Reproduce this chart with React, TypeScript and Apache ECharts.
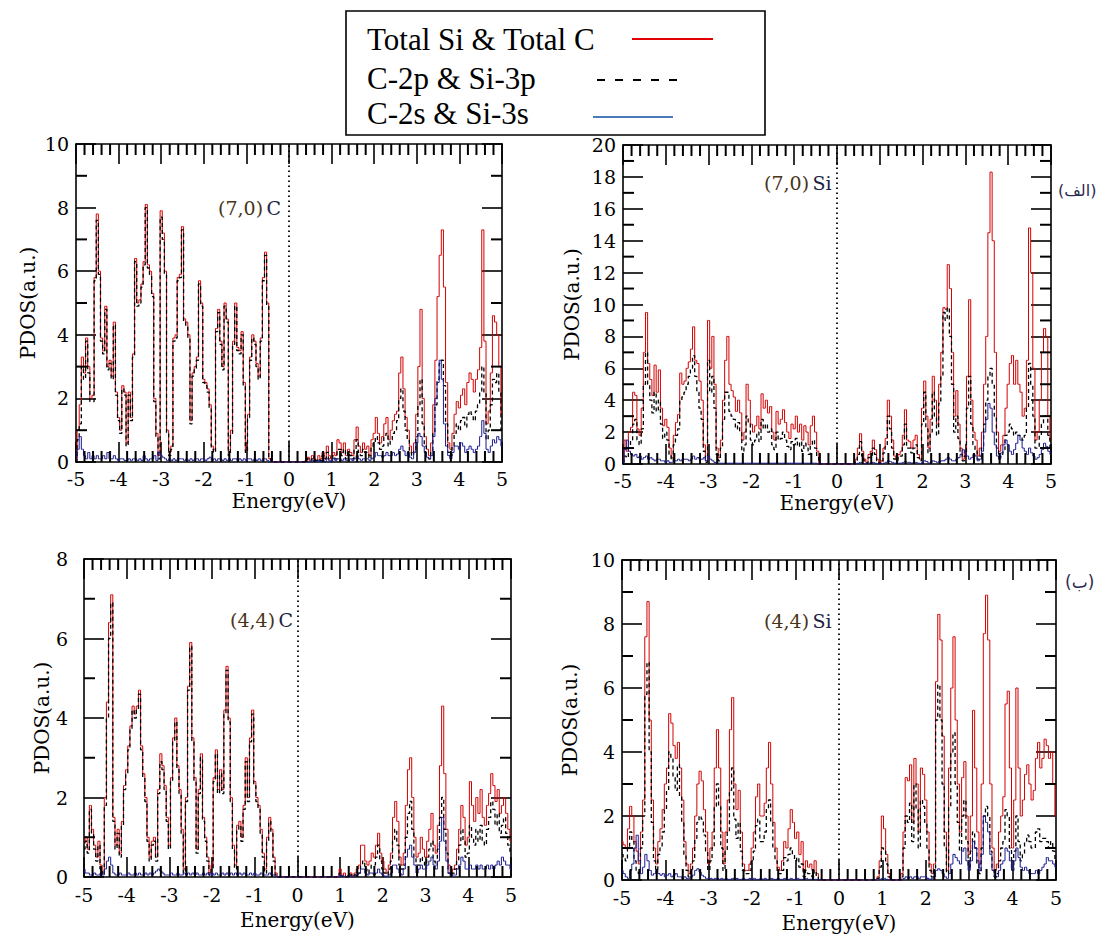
import React, { useEffect, useRef } from "react";
import * as echarts from "echarts";

// Energy sampling grid (eV), -5 … 5 in 0.05 eV steps
const ENERGY: number[] = Array.from({ length: 201 }, (_, i) => Math.round((-5 + i * 0.05) * 100) / 100);

// ---------- (7,0) C ----------
const C70_TOTAL = [
  0.1, 1.0, 1.8, 3.3, 2.8, 3.9, 3.0, 2.0, 2.1, 5.8,
  7.8, 6.0, 3.9, 3.5, 4.9, 3.0, 3.2, 2.7, 4.4, 2.2,
  1.4, 1.0, 2.4, 2.2, 0.6, 2.2, 1.4, 3.4, 6.4, 5.0,
  5.1, 5.6, 6.3, 8.1, 6.2, 6.0, 5.3, 2.0, 0.9, 0.2,
  7.9, 7.2, 6.0, 1.0, 0.3, 0.5, 3.9, 4.0, 5.8, 5.9,
  7.4, 4.5, 4.4, 4.0, 1.3, 2.8, 3.0, 3.3, 5.7, 5.0,
  2.6, 2.5, 2.3, 1.8, 0.5, 0.4, 4.2, 4.8, 3.8, 3.0,
  5.0, 4.5, 0.3, 1.0, 3.8, 5.0, 3.6, 3.5, 4.1, 2.5,
  0.4, 1.5, 3.3, 4.0, 3.8, 3.1, 2.7, 3.9, 5.8, 6.6,
  5.0, 0.1, 0, 0, 0, 0, 0, 0, 0, 0,
  0, 0, 0, 0, 0, 0, 0, 0, 0.05, 0.15,
  0.05, 0.2, 0.1, 0.05, 0.2, 0.1, 0.3, 0.1, 0.5, 0.2,
  0.1, 0.3, 0.2, 0.7, 0.6, 0.3, 0.6, 0.2, 0.4, 0.3,
  0.2, 0.7, 1.1, 0.5, 0.3, 0.6, 0.4, 0.5, 0.2, 0.7,
  0.9, 1.4, 0.9, 0.6, 0.8, 1.2, 1.4, 0.7, 1.0, 1.3,
  1.5, 1.6, 2.8, 3.3, 2.3, 1.4, 1.0, 0.5, 0.3, 0.6,
  1.5, 3.0, 4.8, 2.0, 0.8, 0.4, 0.2, 0.6, 1.8, 3.2,
  5.2, 6.5, 7.3, 5.5, 2.5, 0.6, 0.4, 0.9, 1.5, 1.9,
  1.7, 2.1, 2.3, 1.8, 2.5, 2.8, 2.6, 2.2, 2.6, 2.9,
  3.6, 7.3, 3.8, 1.2, 1.6, 2.8, 4.6, 4.4, 4.0, 3.0,
  1.5,
];
const C70_P = [
  0.0, 0.7, 1.2, 3.0, 2.6, 3.8, 2.8, 1.9, 1.9, 5.7,
  7.6, 5.9, 3.8, 3.4, 4.8, 2.9, 3.1, 2.6, 4.3, 2.1,
  1.3, 0.9, 2.3, 2.1, 0.5, 2.1, 1.3, 3.3, 6.3, 4.9,
  5.0, 5.5, 6.2, 8.0, 6.1, 5.9, 5.2, 1.9, 0.8, 0.1,
  7.7, 7.0, 5.9, 0.9, 0.2, 0.4, 3.8, 3.9, 5.7, 5.8,
  7.3, 4.4, 4.3, 3.9, 1.2, 2.7, 2.9, 3.2, 5.6, 4.9,
  2.5, 2.4, 2.2, 1.7, 0.4, 0.3, 4.1, 4.7, 3.7, 2.9,
  4.9, 4.4, 0.2, 0.9, 3.7, 4.9, 3.5, 3.4, 4.0, 2.4,
  0.3, 1.4, 3.2, 3.9, 3.7, 3.0, 2.6, 3.8, 5.7, 6.5,
  4.9, 0.1, 0, 0, 0, 0, 0, 0, 0, 0,
  0, 0, 0, 0, 0, 0, 0, 0, 0.05, 0.1,
  0.05, 0.1, 0.05, 0.05, 0.1, 0.05, 0.2, 0.1, 0.3, 0.1,
  0.1, 0.2, 0.1, 0.4, 0.4, 0.2, 0.4, 0.1, 0.3, 0.2,
  0.1, 0.4, 0.7, 0.3, 0.2, 0.4, 0.3, 0.3, 0.1, 0.5,
  0.6, 0.8, 0.6, 0.4, 0.5, 0.8, 0.9, 0.5, 0.7, 0.9,
  1.0, 1.3, 2.0, 2.3, 1.6, 1.0, 0.7, 0.3, 0.2, 0.4,
  0.8, 1.8, 2.6, 1.2, 0.5, 0.2, 0.1, 0.3, 0.9, 1.8,
  2.6, 3.1, 3.2, 2.4, 1.2, 0.3, 0.2, 0.5, 0.9, 1.2,
  1.0, 1.3, 1.4, 1.1, 1.5, 1.6, 1.5, 1.3, 1.6, 1.8,
  2.2, 3.0, 2.2, 0.7, 1.0, 1.8, 2.6, 2.5, 2.8, 2.2,
  1.0,
];
const C70_S = [
  0.1, 0.4, 0.8, 0.4, 0.2, 0.1, 0.3, 0.1, 0.2, 0.1,
  0.2, 0.1, 0.1, 0.2, 0.1, 0.3, 0.1, 0.1, 0.2, 0.1,
  0.05, 0.1, 0.1, 0.05, 0.05, 0.1, 0.05, 0.1, 0.1, 0.05,
  0.1, 0.05, 0.2, 0.1, 0.05, 0.1, 0.1, 0.2, 0.05, 0.3,
  0.2, 0.15, 0.1, 0.05, 0.1, 0.05, 0.1, 0.05, 0.1, 0.1,
  0.1, 0.05, 0.1, 0.05, 0.1, 0.05, 0.1, 0.1, 0.05, 0.1,
  0.1, 0.05, 0.1, 0.15, 0.05, 0.1, 0.05, 0.1, 0.1, 0.05,
  0.1, 0.05, 0.1, 0.05, 0.1, 0.1, 0.05, 0.1, 0.05, 0.1,
  0.05, 0.1, 0.1, 0.05, 0.1, 0.05, 0.1, 0.05, 0.1, 0.1,
  0.05, 0, 0, 0, 0, 0, 0, 0, 0, 0,
  0, 0, 0, 0, 0, 0, 0, 0, 0, 0,
  0, 0.05, 0, 0, 0.05, 0, 0.05, 0, 0.1, 0.05,
  0, 0.1, 0.05, 0.1, 0.1, 0.05, 0.1, 0.05, 0.05, 0.1,
  0.05, 0.1, 0.2, 0.1, 0.05, 0.1, 0.1, 0.1, 0.05, 0.1,
  0.15, 0.3, 0.2, 0.2, 0.15, 0.2, 0.3, 0.2, 0.2, 0.3,
  0.2, 0.25, 0.4, 0.5, 0.35, 0.2, 0.3, 0.15, 0.1, 0.3,
  0.6, 0.9, 0.8, 0.5, 0.3, 0.15, 0.1, 0.2, 0.8, 2.0,
  2.5, 3.2, 2.6, 1.2, 0.5, 0.2, 0.1, 0.3, 0.5, 0.5,
  0.4, 0.6, 0.5, 0.3, 0.4, 0.5, 0.4, 0.3, 0.4, 0.5,
  0.8, 1.3, 0.9, 0.4, 0.3, 0.5, 0.7, 0.6, 0.8, 0.7,
  0.5,
];

// ---------- (7,0) Si ----------
const SI70_TOTAL = [
  0.2, 1.5, 0.8, 2.0, 2.3, 4.5, 4.3, 2.2, 1.8, 3.5,
  7.0, 9.5, 6.3, 5.3, 4.3, 6.2, 4.5, 5.9, 3.5, 2.4,
  2.8, 2.3, 1.0, 0.4, 1.8, 2.6, 3.1, 5.7, 5.0, 5.2,
  6.0, 6.4, 7.2, 8.6, 6.5, 6.3, 5.2, 4.0, 1.2, 0.2,
  9.0, 6.0, 8.0, 5.0, 1.0, 0.4, 1.5, 4.0, 6.5, 8.0,
  5.0, 4.6, 4.2, 3.3, 4.0, 3.2, 1.5, 2.0, 5.0, 4.0,
  2.5, 2.0, 2.4, 3.0, 2.2, 4.4, 3.5, 4.0, 3.2, 3.6,
  2.0, 1.5, 3.3, 2.5, 2.8, 3.4, 2.6, 2.0, 1.6, 2.5,
  2.2, 3.0, 2.0, 2.5, 1.5, 2.4, 2.0, 1.2, 2.4, 3.0,
  2.0, 0.8, 0, 0, 0, 0, 0, 0, 0, 0,
  0, 0, 0, 0, 0, 0, 0, 0, 0, 0.3,
  1.0, 1.9, 0.8, 0.3, 0.1, 0.6, 0.8, 1.5, 0.9, 0.3,
  0.1, 0.2, 1.0, 1.6, 4.0, 3.0, 1.5, 0.5, 0.3, 0.6,
  0.8, 1.8, 3.4, 1.5, 1.4, 1.0, 1.5, 1.8, 0.6, 0.3,
  3.5, 5.2, 3.0, 1.0, 2.8, 5.5, 4.0, 2.5, 5.0, 7.0,
  9.8, 9.7, 12.5, 11.0, 7.0, 3.0, 4.6, 2.5, 1.0, 0.3,
  0.8, 5.5, 10.3, 4.0, 2.0, 1.5, 0.5, 1.0, 2.0, 5.0,
  8.0, 14.5, 18.3, 14.0, 7.0, 2.0, 0.8, 1.2, 1.8, 3.5,
  5.0, 6.3, 6.8, 5.0, 6.5, 5.0, 4.5, 3.0, 3.5, 6.5,
  14.8, 12.0, 6.0, 1.5, 2.0, 4.0, 7.0, 8.5, 8.0, 3.0,
  1.5,
];
const SI70_P = [
  0.1, 0.5, 0.4, 1.0, 1.5, 2.5, 2.8, 1.5, 1.2, 2.2,
  5.0, 7.0, 5.0, 4.0, 3.2, 4.5, 3.3, 4.0, 2.5, 1.6,
  2.0, 1.5, 0.6, 0.2, 1.2, 1.8, 2.2, 4.0, 4.2, 4.5,
  5.0, 5.5, 6.0, 6.8, 5.5, 4.5, 3.5, 2.8, 0.8, 0.1,
  6.5, 4.5, 5.5, 3.5, 0.6, 0.2, 1.0, 2.8, 4.5, 4.5,
  3.3, 3.0, 2.8, 2.2, 2.6, 2.0, 0.8, 1.2, 3.0, 2.5,
  1.5, 1.2, 1.5, 2.0, 1.4, 2.8, 2.2, 2.5, 2.0, 2.2,
  1.2, 0.9, 2.0, 1.5, 1.6, 2.0, 1.5, 1.1, 0.9, 1.4,
  1.2, 1.6, 1.1, 1.4, 0.8, 1.3, 1.0, 0.6, 1.2, 1.5,
  1.0, 0.4, 0, 0, 0, 0, 0, 0, 0, 0,
  0, 0, 0, 0, 0, 0, 0, 0, 0, 0.2,
  0.6, 1.4, 0.5, 0.2, 0.05, 0.4, 0.5, 1.0, 0.6, 0.2,
  0.05, 0.1, 0.7, 1.1, 3.0, 2.2, 1.0, 0.3, 0.2, 0.4,
  0.5, 1.2, 2.5, 1.0, 1.0, 0.7, 1.0, 1.2, 0.4, 0.2,
  2.5, 4.5, 2.2, 0.7, 2.0, 4.5, 3.0, 1.8, 3.8, 5.5,
  9.5, 9.0, 9.8, 8.0, 5.0, 2.0, 3.0, 1.6, 0.6, 0.2,
  0.5, 3.5, 5.5, 2.5, 1.2, 0.9, 0.3, 0.5, 1.0, 2.5,
  4.0, 5.5, 6.0, 5.0, 3.0, 1.0, 0.4, 0.6, 0.9, 1.8,
  2.0, 2.5, 2.2, 1.8, 2.0, 1.8, 1.7, 1.5, 1.8, 3.5,
  6.3, 5.0, 3.0, 1.0, 1.0, 1.8, 2.5, 3.0, 3.0, 1.8,
  1.0,
];
const SI70_S = [
  0.1, 0.9, 1.5, 0.8, 0.6, 0.5, 0.6, 0.4, 0.5, 0.3,
  0.4, 0.5, 0.3, 0.4, 0.3, 0.2, 0.3, 0.3, 0.2, 0.2,
  0.1, 0.2, 0.1, 0.1, 0.2, 0.2, 0.3, 0.2, 0.3, 0.3,
  0.3, 0.2, 0.3, 0.5, 0.3, 0.4, 0.3, 0.3, 0.4, 0.2,
  0.5, 0.3, 0.2, 0.1, 0.05, 0.05, 0.05, 0.05, 0.05, 0.05,
  0.05, 0.05, 0.05, 0.05, 0.05, 0.05, 0.05, 0.05, 0.05, 0.05,
  0.05, 0.05, 0.05, 0.05, 0.05, 0.05, 0.05, 0.05, 0.05, 0.05,
  0.05, 0.05, 0.05, 0.05, 0.05, 0.05, 0.05, 0.05, 0.05, 0.05,
  0.05, 0.05, 0.05, 0.05, 0.05, 0.05, 0.05, 0.05, 0.05, 0.05,
  0.05, 0.02, 0, 0, 0, 0, 0, 0, 0, 0,
  0, 0, 0, 0, 0, 0, 0, 0, 0, 0,
  0.05, 0.1, 0.05, 0, 0, 0.05, 0.05, 0.1, 0.05, 0,
  0, 0, 0.05, 0.1, 0.2, 0.15, 0.1, 0.05, 0, 0.05,
  0.05, 0.1, 0.15, 0.1, 0.1, 0.05, 0.1, 0.1, 0.05, 0.02,
  0.1, 0.2, 0.15, 0.05, 0.1, 0.2, 0.15, 0.1, 0.15, 0.2,
  0.2, 0.3, 0.4, 0.3, 0.2, 0.2, 0.3, 0.4, 0.6, 0.9,
  0.7, 0.5, 0.3, 0.4, 0.6, 0.5, 0.2, 0.3, 0.8, 2.0,
  2.8, 3.8, 3.5, 2.0, 1.2, 0.5, 0.3, 0.7, 1.2, 1.5,
  1.2, 0.8, 0.6, 0.9, 1.3, 1.8, 1.5, 1.0, 0.8, 0.6,
  1.0, 0.7, 0.5, 0.3, 0.4, 0.6, 0.9, 1.3, 1.1, 0.8,
  0.6,
];

// ---------- (4,4) C ----------
const C44_TOTAL = [
  0.9, 1.0, 0.7, 1.8, 1.2, 0.8, 0.5, 0.9, 0.3, 0.1,
  2.0, 4.4, 6.4, 7.1, 1.5, 0.8, 1.2, 0.6, 1.4, 2.3,
  2.7, 3.3, 3.8, 4.3, 4.1, 4.3, 4.7, 3.3, 2.6, 2.0,
  1.0, 0.5, 0.9, 1.0, 0.5, 2.2, 3.1, 2.8, 2.3, 1.5,
  0.8, 2.5, 3.5, 4.0, 2.8, 2.2, 1.2, 0.2, 2.0, 4.8,
  5.9, 3.5, 2.5, 0.7, 2.2, 3.1, 1.5, 1.0, 0.5, 0.1,
  0.3, 2.5, 3.2, 2.2, 2.7, 2.2, 4.2, 5.3, 4.0, 2.0,
  0.8, 0.3, 1.3, 1.4, 1.0, 1.8, 3.0, 2.0, 3.5, 4.2,
  2.4, 2.0, 1.8, 1.2, 0.6, 0.2, 1.0, 1.5, 1.2, 0.5,
  0.1, 0, 0, 0, 0, 0, 0, 0, 0, 0,
  0, 0, 0, 0, 0, 0, 0, 0, 0, 0,
  0, 0, 0, 0, 0, 0, 0, 0, 0, 0,
  0.2, 0.05, 0.1, 0, 0.05, 0.1, 0, 0.1, 0.2, 0.3,
  0.8, 0.8, 0.4, 0.3, 0.4, 0.6, 0.5, 0.8, 1.1, 0.6,
  0.4, 0.2, 0.1, 0.3, 0.6, 1.5, 1.9, 1.4, 0.5, 0.3,
  0.6, 1.8, 2.7, 3.0, 2.0, 1.0, 0.5, 0.6, 1.0, 0.7,
  0.5, 0.9, 1.2, 1.6, 0.8, 0.6, 1.3, 2.8, 4.3, 2.6,
  1.2, 0.3, 0.1, 0.2, 0.3, 0.7, 1.2, 1.8, 1.5, 0.8,
  1.0, 2.4, 1.8, 1.4, 2.0, 1.6, 2.2, 1.5, 1.3, 1.8,
  2.1, 2.6, 2.3, 1.9, 2.2, 1.6, 1.8, 2.0, 1.6, 1.2,
  0.9,
];
const C44_P = [
  0.7, 0.9, 0.6, 1.7, 1.1, 0.7, 0.4, 0.8, 0.2, 0.05,
  1.8, 4.0, 6.0, 6.9, 1.4, 0.7, 1.1, 0.5, 1.3, 2.2,
  2.6, 3.2, 3.7, 4.2, 4.0, 4.2, 4.6, 3.2, 2.5, 1.9,
  0.9, 0.4, 0.8, 0.9, 0.4, 2.1, 2.9, 2.7, 2.2, 1.4,
  0.7, 2.4, 3.4, 3.9, 2.7, 2.1, 1.1, 0.1, 1.9, 4.7,
  5.8, 3.4, 2.4, 0.6, 2.1, 3.0, 1.4, 0.9, 0.4, 0.05,
  0.2, 2.4, 3.1, 2.1, 2.6, 2.1, 4.1, 5.2, 3.9, 1.9,
  0.7, 0.2, 1.2, 1.3, 0.9, 1.7, 2.9, 1.9, 3.4, 4.1,
  2.3, 1.9, 1.7, 1.1, 0.5, 0.1, 0.9, 1.4, 1.1, 0.4,
  0.05, 0, 0, 0, 0, 0, 0, 0, 0, 0,
  0, 0, 0, 0, 0, 0, 0, 0, 0, 0,
  0, 0, 0, 0, 0, 0, 0, 0, 0, 0,
  0.1, 0.02, 0.05, 0, 0.02, 0.05, 0, 0.05, 0.1, 0.1,
  0.3, 0.4, 0.2, 0.1, 0.2, 0.3, 0.3, 0.5, 0.8, 0.4,
  0.2, 0.1, 0.05, 0.2, 0.4, 0.9, 1.2, 0.8, 0.3, 0.2,
  0.3, 1.0, 1.6, 1.9, 1.2, 0.5, 0.3, 0.3, 0.5, 0.4,
  0.3, 0.5, 0.7, 0.9, 0.4, 0.3, 0.7, 1.5, 2.0, 1.2,
  0.6, 0.1, 0.05, 0.1, 0.2, 0.4, 0.8, 1.2, 0.9, 0.5,
  0.6, 1.3, 1.0, 0.8, 1.2, 0.9, 1.3, 0.9, 0.8, 1.2,
  1.5, 1.9, 1.7, 1.3, 1.6, 1.1, 1.3, 1.5, 1.1, 0.8,
  0.6,
];
const C44_S = [
  0.2, 0.1, 0.1, 0.05, 0.05, 0.1, 0.05, 0.05, 0.1, 0.05,
  0.2, 0.4, 0.5, 0.3, 0.1, 0.05, 0.05, 0.1, 0.05, 0.05,
  0.05, 0.1, 0.05, 0.05, 0.1, 0.05, 0.1, 0.05, 0.05, 0.1,
  0.05, 0.1, 0.05, 0.1, 0.15, 0.2, 0.15, 0.1, 0.05, 0.05,
  0.05, 0.1, 0.05, 0.05, 0.1, 0.05, 0.05, 0.1, 0.05, 0.1,
  0.05, 0.1, 0.05, 0.1, 0.05, 0.05, 0.1, 0.05, 0.1, 0.05,
  0.1, 0.05, 0.1, 0.05, 0.05, 0.1, 0.05, 0.1, 0.05, 0.1,
  0.05, 0.1, 0.05, 0.1, 0.05, 0.1, 0.05, 0.05, 0.1, 0.05,
  0.1, 0.05, 0.05, 0.1, 0.05, 0.05, 0.05, 0.1, 0.05, 0.05,
  0.02, 0, 0, 0, 0, 0, 0, 0, 0, 0,
  0, 0, 0, 0, 0, 0, 0, 0, 0, 0,
  0, 0, 0, 0, 0, 0, 0, 0, 0, 0,
  0.05, 0, 0.02, 0, 0, 0.02, 0, 0.02, 0.05, 0.1,
  0.2, 0.2, 0.1, 0.05, 0.1, 0.1, 0.05, 0.1, 0.2, 0.1,
  0.05, 0.02, 0.02, 0.05, 0.1, 0.3, 0.3, 0.2, 0.1, 0.05,
  0.2, 0.5, 0.7, 0.8, 0.5, 0.3, 0.1, 0.2, 0.3, 0.2,
  0.2, 0.3, 0.4, 0.5, 0.3, 0.2, 0.4, 0.9, 1.5, 0.9,
  0.4, 0.1, 0.02, 0.05, 0.05, 0.2, 0.3, 0.5, 0.4, 0.2,
  0.2, 0.3, 0.2, 0.2, 0.3, 0.2, 0.3, 0.2, 0.2, 0.3,
  0.2, 0.3, 0.2, 0.3, 0.4, 0.3, 0.5, 0.4, 0.3, 0.3,
  0.2,
];

// ---------- (4,4) Si ----------
const SI44_TOTAL = [
  1.2, 1.1, 1.0, 1.6, 2.3, 2.0, 1.2, 0.9, 0.5, 1.5,
  2.5, 7.6, 8.7, 5.0, 2.5, 1.0, 0.5, 1.2, 1.6, 2.2,
  3.0, 3.5, 5.2, 4.9, 4.2, 3.8, 4.3, 3.5, 2.5, 1.2,
  0.5, 0.2, 0.5, 1.0, 2.0, 3.0, 3.4, 3.1, 2.2, 1.5,
  0.5, 1.0, 1.5, 3.5, 4.7, 3.5, 1.5, 0.5, 1.5, 2.5,
  4.7, 5.7, 3.0, 2.2, 2.8, 1.5, 0.5, 0.3, 0.3, 0.5,
  1.0, 1.5, 2.6, 3.0, 2.0, 2.0, 2.4, 3.5, 4.3, 3.0,
  1.8, 1.0, 0.4, 0.3, 0.6, 1.2, 1.0, 1.6, 2.2, 1.8,
  1.3, 1.5, 0.8, 1.2, 0.3, 0.6, 0.4, 0.5, 0.3, 0.6,
  0.2, 0, 0, 0, 0, 0, 0, 0, 0, 0,
  0, 0, 0, 0, 0, 0, 0, 0, 0, 0,
  0, 0, 0, 0, 0, 0, 0, 0, 0.1, 0.6,
  2.0, 1.6, 0.8, 0.2, 0, 0, 0, 0, 0, 0.2,
  1.5, 3.2, 3.1, 3.6, 1.8, 3.8, 3.0, 1.5, 3.5, 3.3,
  2.5, 1.5, 0.5, 0.2, 0.5, 6.2, 8.3, 7.5, 4.5, 1.5,
  0.3, 3.5, 6.0, 7.6, 5.0, 3.0, 1.5, 3.2, 3.7, 2.0,
  0.8, 2.0, 5.3, 3.5, 1.5, 0.5, 3.0, 7.7, 8.9, 7.5,
  3.0, 1.0, 0.3, 0.5, 1.5, 2.0, 2.6, 5.5, 5.9, 3.5,
  1.0, 2.5, 6.0, 3.5, 2.0, 2.5, 3.3, 3.6, 3.0, 2.5,
  2.8, 3.8, 4.3, 3.5, 3.8, 4.4, 4.2, 3.8, 4.0, 3.0,
  2.0,
];
const SI44_P = [
  0.8, 0.7, 0.6, 1.0, 1.5, 1.2, 0.6, 0.3, 0.2, 1.0,
  2.0, 5.8, 6.8, 4.0, 1.8, 0.6, 0.3, 0.8, 1.0, 1.5,
  2.2, 2.8, 4.0, 3.8, 3.2, 2.8, 3.6, 2.6, 1.8, 0.8,
  0.3, 0.1, 0.3, 0.6, 1.3, 1.8, 2.0, 1.9, 1.4, 0.9,
  0.3, 0.6, 1.0, 2.3, 3.0, 2.3, 1.0, 0.3, 0.9, 1.5,
  2.8, 3.5, 1.9, 1.3, 1.8, 0.9, 0.3, 0.2, 0.2, 0.3,
  0.6, 0.9, 1.7, 1.9, 1.2, 1.2, 1.5, 2.2, 2.5, 1.8,
  1.0, 0.6, 0.2, 0.2, 0.3, 0.7, 0.6, 0.8, 1.0, 0.8,
  0.6, 0.7, 0.4, 0.5, 0.1, 0.3, 0.2, 0.2, 0.1, 0.3,
  0.1, 0, 0, 0, 0, 0, 0, 0, 0, 0,
  0, 0, 0, 0, 0, 0, 0, 0, 0, 0,
  0, 0, 0, 0, 0, 0, 0, 0, 0.05, 0.4,
  1.0, 0.9, 0.5, 0.1, 0, 0, 0, 0, 0, 0.1,
  1.0, 2.0, 1.8, 2.4, 1.2, 3.0, 2.2, 1.0, 2.5, 2.3,
  1.8, 1.0, 0.3, 0.1, 0.3, 5.0, 6.1, 5.0, 3.0, 1.0,
  0.2, 2.3, 4.0, 4.6, 3.0, 1.8, 0.9, 2.0, 2.5, 1.2,
  0.4, 0.9, 1.5, 1.0, 0.5, 0.2, 1.0, 2.0, 2.3, 2.0,
  0.9, 0.3, 0.1, 0.2, 0.6, 1.0, 1.2, 2.2, 2.0, 1.0,
  0.3, 0.9, 2.0, 1.2, 0.6, 0.8, 1.2, 1.4, 1.2, 1.0,
  1.0, 1.5, 1.6, 1.2, 1.3, 1.3, 1.2, 1.0, 1.2, 0.9,
  0.6,
];
const SI44_S = [
  0.3, 0.2, 0.1, 0.05, 0.3, 0.5, 1.0, 1.4, 0.6, 0.2,
  0.4, 0.8, 0.6, 0.3, 0.15, 0.2, 0.3, 0.2, 0.15, 0.2,
  0.1, 0.15, 0.2, 0.1, 0.15, 0.2, 0.1, 0.1, 0.05, 0.1,
  0.05, 0.05, 0.1, 0.15, 0.3, 0.35, 0.25, 0.15, 0.1, 0.05,
  0.05, 0.05, 0.02, 0.05, 0.05, 0.02, 0.05, 0.02, 0.05, 0.02,
  0.02, 0.05, 0.02, 0.05, 0.02, 0.02, 0.05, 0.02, 0.02, 0.05,
  0.02, 0.05, 0.02, 0.02, 0.05, 0.02, 0.05, 0.02, 0.02, 0.05,
  0.02, 0.02, 0.05, 0.02, 0.02, 0.05, 0.02, 0.02, 0.05, 0.02,
  0.02, 0.05, 0.02, 0.02, 0.02, 0.05, 0.02, 0.02, 0.02, 0.02,
  0.02, 0, 0, 0, 0, 0, 0, 0, 0, 0,
  0, 0, 0, 0, 0, 0, 0, 0, 0, 0,
  0, 0, 0, 0, 0, 0, 0, 0, 0, 0.02,
  0.05, 0.05, 0.02, 0, 0, 0, 0, 0, 0, 0,
  0.05, 0.1, 0.05, 0.1, 0.05, 0.1, 0.1, 0.05, 0.1, 0.1,
  0.1, 0.05, 0.02, 0.05, 0.1, 0.3, 0.35, 0.3, 0.2, 0.1,
  0.05, 0.2, 0.5, 0.8, 0.7, 0.6, 0.5, 0.9, 1.0, 0.6,
  0.3, 0.6, 1.2, 1.0, 0.6, 0.3, 0.8, 2.0, 1.8, 1.5,
  0.8, 0.3, 0.1, 0.1, 0.3, 0.5, 0.6, 1.0, 0.9, 0.6,
  0.3, 0.6, 1.0, 0.7, 0.4, 0.3, 0.4, 0.3, 0.2, 0.2,
  0.2, 0.3, 0.2, 0.3, 0.4, 0.5, 0.7, 0.6, 0.6, 0.5,
  0.4,
];

// Panel texts and axis maxima
const PANEL_TAGS = ["(7,0)", "(7,0)", "(4,4)", "(4,4)"];
const PANEL_ATOMS = ["C", "Si", "C", "Si"];
const Y_MAX = [10, 20, 8, 10];
const SERIES_SETS = [
  [C70_TOTAL, C70_P, C70_S],
  [SI70_TOTAL, SI70_P, SI70_S],
  [C44_TOTAL, C44_P, C44_S],
  [SI44_TOTAL, SI44_P, SI44_S],
];
const LEGEND_NAMES = ["Total Si & Total C", "C-2p & Si-3p", "C-2s & Si-3s"];
const SIDE_TAGS = ["(الف)", "(ب)"];

// minor tick positions (axis ticks, not data)
const MINOR_X: number[] = Array.from({ length: 51 }, (_, i) => Math.round((-5 + i * 0.2) * 100) / 100)
  .filter((v) => Math.abs(v - Math.round(v)) > 1e-6);

// Layout (pixels)
const LAYOUT = [
  { left: 76, top: 144, width: 426, height: 318, yMargin: 7, yNameGap: 38, xMargin: 7, xNameGap: 29, tagX: 218, tagY: 210 },
  { left: 623, top: 145, width: 428, height: 319, yMargin: 7, yNameGap: 41, xMargin: 7, xNameGap: 29, tagX: 764, tagY: 185 },
  { left: 84, top: 559, width: 427, height: 318, yMargin: 16, yNameGap: 31, xMargin: 8, xNameGap: 33, tagX: 230, tagY: 622 },
  { left: 622, top: 560, width: 434, height: 320, yMargin: 7, yNameGap: 42, xMargin: 8, xNameGap: 33, tagX: 764, tagY: 623 },
];

const SERIF = "'DejaVu Serif', serif";
const TIMES = "'Liberation Serif', 'Times New Roman', serif";
const SERIES_STYLE = [
  { color: "#d40000", width: 1, type: "solid" as any },
  { color: "#000000", width: 1.3, type: [4, 3] as any },
  { color: "#1a1a90", width: 1, type: "solid" as any },
];

function tickScatter(k: number, data: number[][], size: number[], offset: number[]) {
  return {
    type: "scatter", xAxisIndex: 2 * k, yAxisIndex: 2 * k, silent: true, clip: false, z: 6,
    symbol: "rect", symbolSize: size, symbolOffset: offset,
    itemStyle: { color: "#000", opacity: 1 },
    emphasis: { disabled: true },
    data,
  };
}

function buildOption() {
  const grid: any[] = [];
  const xAxis: any[] = [];
  const yAxis: any[] = [];
  const series: any[] = [];
  const graphic: any[] = [];
  const axisLine = { show: true, onZero: false, lineStyle: { color: "#000", width: 1.6 } };

  LAYOUT.forEach((L, k) => {
    grid.push({ left: L.left, top: L.top, width: L.width, height: L.height, containLabel: false });
    ["bottom", "top"].forEach((pos) => {
      xAxis.push({
        type: "value", gridIndex: k, position: pos, min: -5, max: 5, interval: 1,
        axisLine,
        axisTick: { show: true, inside: true, length: 20, lineStyle: { color: "#000", width: 1.6 } },
        splitLine: { show: false },
        axisLabel: { show: pos === "bottom", color: "#000", fontFamily: SERIF, fontSize: 19, margin: L.xMargin },
        name: pos === "bottom" ? "Energy(eV)" : "",
        nameLocation: "middle", nameGap: L.xNameGap,
        nameTextStyle: { color: "#000", fontFamily: SERIF, fontSize: 20 },
      });
    });
    ["left", "right"].forEach((pos) => {
      yAxis.push({
        type: "value", gridIndex: k, position: pos, min: 0, max: Y_MAX[k], interval: 2,
        axisLine,
        axisTick: { show: true, inside: true, length: 20, lineStyle: { color: "#000", width: 1.6 } },
        splitLine: { show: false },
        axisLabel: { show: pos === "left", color: "#000", fontFamily: SERIF, fontSize: 19, margin: L.yMargin },
        name: pos === "left" ? "PDOS(a.u.)" : "",
        nameLocation: "middle", nameGap: L.yNameGap, nameRotate: 90,
        nameTextStyle: { color: "#000", fontFamily: SERIF, fontSize: 20 },
      });
    });

    SERIES_SETS[k].forEach((vals, j) => {
      const st = SERIES_STYLE[j];
      const s: any = {
        type: "line", name: LEGEND_NAMES[j], xAxisIndex: 2 * k, yAxisIndex: 2 * k,
        data: ENERGY.map((e, i) => [e, vals[i] ?? 0]),
        step: "middle", showSymbol: false, symbol: "none", silent: true,
        lineStyle: { color: st.color, width: st.width, type: st.type },
        itemStyle: { color: st.color },
        z: 2 + j,
      };
      if (j === 0) {
        s.markLine = {
          silent: true, symbol: "none", label: { show: false },
          lineStyle: { color: "#000", type: [1.5, 3.5], width: 1.8 },
          data: [{ xAxis: 0 }],
        };
      }
      series.push(s);
    });

    // minor ticks as small rect symbols placed through the axes' scales
    const ymax = Y_MAX[k];
    const minorY: number[] = [];
    for (let v = 1; v < ymax; v += 2) minorY.push(v);
    series.push(tickScatter(k, MINOR_X.map((v) => [v, 0]), [2, 11], [0, -5.5]));
    series.push(tickScatter(k, MINOR_X.map((v) => [v, ymax]), [2, 11], [0, 5.5]));
    series.push(tickScatter(k, minorY.map((v) => [-5, v]), [11, 2], [5.5, 0]));
    series.push(tickScatter(k, minorY.map((v) => [5, v]), [11, 2], [-5.5, 0]));

    graphic.push({
      type: "text", left: L.tagX, top: L.tagY - 12, z: 10,
      style: {
        text: `{a|${PANEL_TAGS[k]}} {b|${PANEL_ATOMS[k]}}`,
        rich: {
          a: { fontFamily: SERIF, fontSize: 19, fill: "#4a3418" },
          b: { fontFamily: SERIF, fontSize: 19, fill: "#1c2240" },
        },
      },
    });
  });

  // legend box
  graphic.push({
    type: "rect", shape: { x: 346, y: 11, width: 419, height: 124 }, z: 20,
    style: { fill: "#fff", stroke: "#000", lineWidth: 1.6 },
  });
  const legendY = [39, 78, 113];
  LEGEND_NAMES.forEach((n, j) => {
    graphic.push({
      type: "text", x: 367, y: legendY[j], z: 21,
      style: { text: n, fontFamily: TIMES, fontSize: 31, fill: "#000", verticalAlign: "middle", align: "left" },
    });
  });
  graphic.push({ type: "line", z: 21, shape: { x1: 632, y1: 39, x2: 713, y2: 39 }, style: { stroke: "#e00000", lineWidth: 2 } });
  graphic.push({ type: "line", z: 21, shape: { x1: 597, y1: 80, x2: 682, y2: 80 }, style: { stroke: "#000", lineWidth: 2.2, lineDash: [8, 10] } });
  graphic.push({ type: "line", z: 21, shape: { x1: 593, y1: 117, x2: 673, y2: 117 }, style: { stroke: "#4a7ab8", lineWidth: 2 } });

  // side tags
  graphic.push({
    type: "text", x: 1058, y: 190, z: 21,
    style: { text: SIDE_TAGS[0], fontFamily: "'DejaVu Sans', sans-serif", fontSize: 16, fill: "#2a2a50", verticalAlign: "middle" },
  });
  graphic.push({
    type: "text", x: 1065, y: 582, z: 21,
    style: { text: SIDE_TAGS[1], fontFamily: "'DejaVu Sans', sans-serif", fontSize: 17, fill: "#2a2a50", verticalAlign: "middle" },
  });

  return {
    animation: false,
    backgroundColor: "#fff",
    grid, xAxis, yAxis, series, graphic,
  };
}

export default function App() {
  const ref = useRef<HTMLDivElement>(null);
  useEffect(() => {
    if (!ref.current) return;
    const chart = echarts.init(ref.current, null, { renderer: "svg" });
    chart.setOption(buildOption() as any);
    return () => chart.dispose();
  }, []);
  return (
    <div
      ref={ref}
      style={{ position: "fixed", left: 0, top: 0, width: 1101, height: 937, background: "#fff" }}
    />
  );
}
